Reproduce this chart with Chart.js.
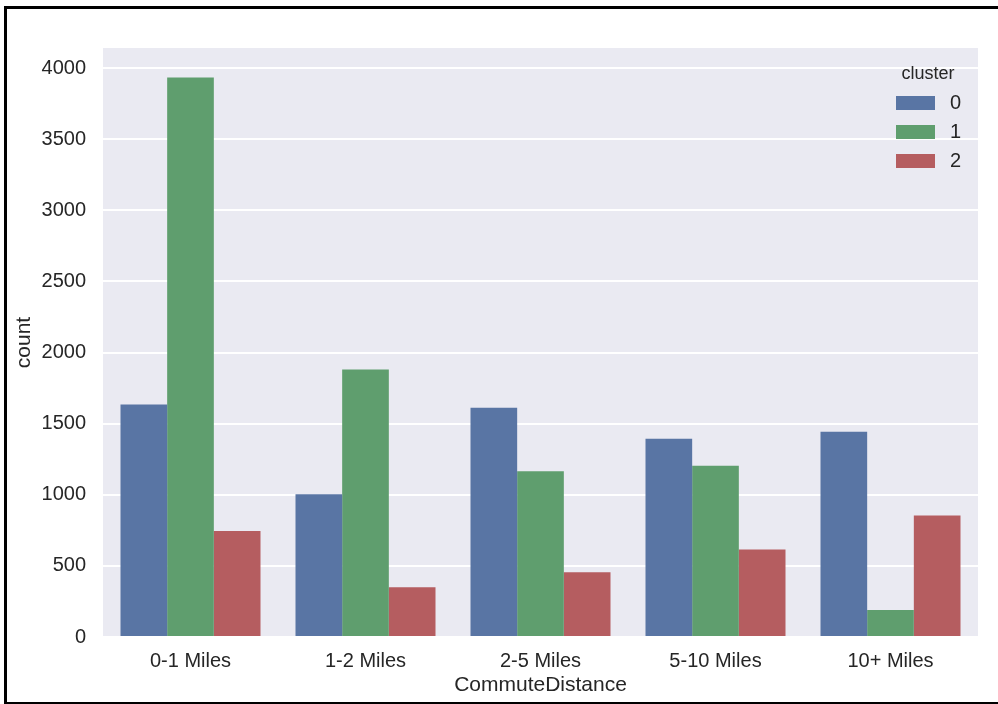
<!DOCTYPE html>
<html>
<head>
<meta charset="utf-8">
<script src="https://cdn.jsdelivr.net/npm/chart.js@4/dist/chart.umd.min.js"></script>
<style>
  html, body { margin: 0; padding: 0; background: #ffffff; }
  #wrap { position: relative; width: 998px; height: 704px; overflow: hidden; }
  #c { position: absolute; left: 0; top: 0; }
  .edge { position: absolute; background: #000; }
</style>
</head>
<body>
<div id="wrap">
  <canvas id="c" width="998" height="704"></canvas>
  <div class="edge" style="left:4px; top:6px; width:994px; height:3px;"></div>
  <div class="edge" style="left:4px; top:6px; width:3px; height:698px;"></div>
  <div class="edge" style="left:4px; top:702px; width:994px; height:2px;"></div>
</div>
<script>
// Commute distance buckets on the x axis
const categories = ['0-1 Miles', '1-2 Miles', '2-5 Miles', '5-10 Miles', '10+ Miles'];

// Counts per cluster
const cluster0 = [1635, 1003, 1612, 1394, 1443];
const cluster1 = [3933, 1880, 1166, 1204, 190];
const cluster2 = [745, 349, 455, 616, 855];

const clusterNames = ['0', '1', '2'];
const clusterColors = ['#5975a4', '#5f9e6e', '#b55d60'];

const yTicks = [0, 500, 1000, 1500, 2000, 2500, 3000, 3500, 4000];

const textColor = '#262626';
const fontFamily = '"Liberation Sans", Arial, sans-serif';

// Plot background
const plotBackground = {
  id: 'plotBackground',
  beforeDraw(chart) {
    const { ctx, chartArea: a } = chart;
    ctx.save();
    ctx.fillStyle = '#eaeaf2';
    ctx.fillRect(a.left, a.top, a.right - a.left, a.bottom - a.top);
    ctx.restore();
  }
};

// Legend with a title, placed in the upper right of the plot
const clusterLegend = {
  id: 'clusterLegend',
  afterDraw(chart) {
    const { ctx } = chart;
    ctx.save();
    ctx.fillStyle = textColor;
    ctx.textAlign = 'center';
    ctx.textBaseline = 'middle';
    ctx.font = '18px ' + fontFamily;
    ctx.fillText('cluster', 928, 74);
    chart.data.datasets.forEach((ds, i) => {
      const cy = 103 + i * 29;
      ctx.fillStyle = ds.backgroundColor;
      ctx.fillRect(896, cy - 7, 39, 14);
      ctx.fillStyle = textColor;
      ctx.textAlign = 'left';
      ctx.font = '20px ' + fontFamily;
      ctx.fillText(ds.label, 950, cy);
    });
    ctx.restore();
  }
};

new Chart(document.getElementById('c'), {
  type: 'bar',
  data: {
    labels: categories,
    datasets: [
      { label: clusterNames[0], data: cluster0, backgroundColor: clusterColors[0] },
      { label: clusterNames[1], data: cluster1, backgroundColor: clusterColors[1] },
      { label: clusterNames[2], data: cluster2, backgroundColor: clusterColors[2] }
    ]
  },
  options: {
    responsive: false,
    animation: false,
    devicePixelRatio: 1,
    layout: { padding: { left: 0, top: 48, right: 20, bottom: 0 } },
    datasets: {
      bar: { categoryPercentage: 0.8, barPercentage: 1.0, borderWidth: 0 }
    },
    plugins: {
      legend: { display: false },
      tooltip: { enabled: false }
    },
    scales: {
      x: {
        grid: { display: false, drawTicks: false },
        border: { display: false },
        ticks: {
          color: textColor,
          padding: 12,
          font: { family: fontFamily, size: 20 }
        },
        title: {
          display: true,
          text: 'CommuteDistance',
          color: textColor,
          padding: { top: 0, bottom: 6 },
          font: { family: fontFamily, size: 21 }
        },
        afterFit(scale) { scale.height = 67; }
      },
      y: {
        min: 0,
        max: 4141,
        grid: { color: '#ffffff', lineWidth: 2, drawTicks: false },
        border: { display: false },
        afterBuildTicks(scale) {
          scale.ticks = yTicks.map(v => ({ value: v }));
        },
        ticks: {
          color: textColor,
          padding: 17,
          font: { family: fontFamily, size: 20 },
          callback: (v) => String(v)
        },
        title: {
          display: true,
          text: 'count',
          color: textColor,
          padding: { top: 12, bottom: 0 },
          font: { family: fontFamily, size: 21 }
        },
        afterFit(scale) { scale.width = 103; }
      }
    }
  },
  plugins: [plotBackground, clusterLegend]
});
</script>
</body>
</html>
